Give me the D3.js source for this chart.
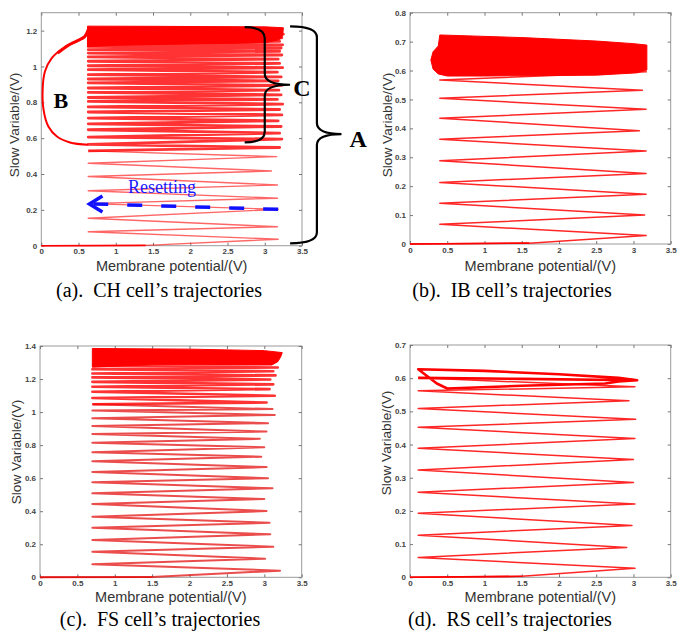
<!DOCTYPE html>
<html>
<head>
<meta charset="utf-8">
<script src="https://cdnjs.cloudflare.com/ajax/libs/d3/7.8.5/d3.min.js"></script>
<style>
  body { margin: 0; background: #fff; }
  svg { display: block; }
  .tick text { font-family: "Liberation Sans", Arial, sans-serif; font-size: 8px; font-weight: bold; fill: #444; }
  .tick line { stroke: #777; }
  .lbl { font-family: "Liberation Sans", Arial, sans-serif; fill: #333; }
  .cap { font-family: "Liberation Serif", "Times New Roman", serif; font-size: 20px; fill: #000; white-space: pre; }
  .note { font-family: "Liberation Serif", "Times New Roman", serif; font-weight: bold; fill: #000; }
</style>
</head>
<body>
<div id="fig"></div>
<script>
// x axis is the same for all four panels
const xTicks = [0, 0.5, 1, 1.5, 2, 2.5, 3, 3.5]

// (a) CH cell
const aStart = [[0, 0], [1.4, 0.002]]
const aResetV = 0.63
const aPeakX = [3.18, 3.17, 3.18, 3.17, 3.17, 3.09, 3.16, 3.20, 3.23, 3.20, 3.22, 3.18, 3.23, 3.20, 3.24, 3.17, 3.22, 3.19, 3.23, 3.18, 3.22, 3.17, 3.24, 3.20, 3.18, 3.23, 3.20, 3.22, 3.24, 3.20, 3.23, 3.25, 3.22]
const aPeakY = [0.036, 0.106, 0.203, 0.265, 0.339, 0.417, 0.497, 0.548, 0.595, 0.628, 0.665, 0.697, 0.730, 0.760, 0.790, 0.816, 0.842, 0.868, 0.894, 0.920, 0.942, 0.968, 0.993, 1.017, 1.041, 1.064, 1.085, 1.103, 1.121, 1.140, 1.160, 1.180, 1.200]
const aResetY = [0.078, 0.153, 0.235, 0.307, 0.386, 0.460, 0.529, 0.565, 0.606, 0.647, 0.680, 0.712, 0.746, 0.774, 0.805, 0.827, 0.855, 0.880, 0.908, 0.930, 0.954, 0.982, 1.004, 1.029, 1.053, 1.075, 1.094, 1.112, 1.130, 1.150, 1.170, 1.190, 1.210]
const aSolid = [[0.62, 1.225], [1.5, 1.224], [3.0, 1.221], [3.25, 1.216], [3.24, 1.17], [3.2, 1.15], [3.0, 1.132], [2.0, 1.126], [1.0, 1.118], [0.62, 1.11]]
const aQuiet = [[0.645, 1.224], [0.61, 1.178], [0.52, 1.15], [0.30, 1.103], [0.14, 1.047], [0.05, 0.973], [0.02, 0.889], [0.03, 0.759], [0.095, 0.665], [0.21, 0.609], [0.385, 0.576], [0.63, 0.563]]
const aQuietTop = [[0.22, 1.075], [0.35, 1.115], [0.48, 1.143], [0.58, 1.165], [0.63, 1.205]]

// (b) IB cell
const bStart = [[0, 0], [1.6, 0.003]]
const bResetV = 0.4
const bPeakX = [3.17, 3.15, 3.17, 3.17, 3.17, 3.08, 3.17, 3.12, 3.18]
const bPeakY = [0.029, 0.100, 0.172, 0.244, 0.322, 0.392, 0.466, 0.532, 0.596]
const bResetY = [0.068, 0.141, 0.213, 0.288, 0.362, 0.435, 0.504, 0.567]
const bSolid = [[0.4, 0.723], [1.5, 0.714], [2.5, 0.702], [3.0, 0.693], [3.18, 0.688], [3.18, 0.602], [3.05, 0.592], [2.5, 0.584], [1.0, 0.581], [0.5, 0.581], [0.38, 0.588], [0.31, 0.605], [0.28, 0.636], [0.31, 0.665], [0.38, 0.685], [0.4, 0.723]]

// (c) FS cell
const cStart = [[0, 0], [1.5, 0.002]]
const cResetV = 0.7
const cPeakX = [3.21, 3.01, 3.12, 3.08, 3.07, 3.03, 3.00, 3.11, 3.05, 3.03, 2.96, 3.00, 2.94, 3.03, 3.05, 3.14, 3.11, 3.03, 3.14, 3.07, 3.12, 3.08, 3.15, 3.12, 3.18]
const cPeakY = [0.040, 0.113, 0.185, 0.260, 0.330, 0.401, 0.474, 0.539, 0.600, 0.667, 0.730, 0.787, 0.838, 0.882, 0.933, 0.983, 1.018, 1.058, 1.099, 1.139, 1.168, 1.197, 1.222, 1.247, 1.270]
const cResetY = [0.079, 0.155, 0.226, 0.300, 0.367, 0.444, 0.508, 0.575, 0.637, 0.702, 0.757, 0.815, 0.867, 0.916, 0.962, 1.010, 1.047, 1.085, 1.123, 1.153, 1.183, 1.210, 1.234, 1.259, 1.280]
const cSolid = [[0.7, 1.385], [2.0, 1.381], [3.0, 1.372], [3.24, 1.360], [3.22, 1.335], [3.18, 1.305], [3.1, 1.285], [2.5, 1.285], [1.5, 1.287], [0.7, 1.272]]

// (d) RS cell
const dStart = [[0, 0], [1.5, 0.003]]
const dResetV = 0.11
const dPeakX = [3.02, 2.91, 2.98, 3.02, 3.00, 3.00, 3.02, 3.03, 2.94, 3.02]
const dPeakY = [0.027, 0.090, 0.156, 0.221, 0.286, 0.355, 0.418, 0.476, 0.532, 0.574]
const dResetY = [0.060, 0.127, 0.193, 0.256, 0.323, 0.389, 0.452, 0.509, 0.562, 0.601]
const dLoop = [[0.11, 0.601], [1.5, 0.598], [3.05, 0.594], [2.8, 0.601], [2.0, 0.612], [1.0, 0.622], [0.11, 0.627], [0.18, 0.615], [0.36, 0.584], [0.5, 0.569], [1.5, 0.577], [2.62, 0.584], [2.8, 0.590], [3.05, 0.594]]

// annotations on (a)
const braceC = { tip: 2.73, spine: 3.0, cusp: 3.34, top: 1.219, mid: 0.898, bottom: 0.576 }
const braceA = { tip: 3.34, spine: 3.70, cusp: 4.03, top: 1.224, mid: 0.623, bottom: 0.013 }
const resetArrow = [[3.18, 0.203], [0.70, 0.233]]

const panels = [
  { left: 41.3, right: 302, top: 12.7, bottom: 245.7, yMax: 1.3, yTicks: [0, 0.2, 0.4, 0.6, 0.8, 1, 1.2],
    start: aStart, resetV: aResetV, peakX: aPeakX, peakY: aPeakY, resetY: aResetY, solid: aSolid,
    caption: "(a).  CH cell\u2019s trajectories", capX: 159, capY: 297, xlY: 271, ylX: 19, ylY: 125,
    op: 0.6, sw: 1.4, bandFrom: 7, bandOp: 0.8, bandSw: 2.8 },
  { left: 410, right: 670.7, top: 12.7, bottom: 244, yMax: 0.8, yTicks: [0, 0.1, 0.2, 0.3, 0.4, 0.5, 0.6, 0.7, 0.8],
    start: bStart, resetV: bResetV, peakX: bPeakX, peakY: bPeakY, resetY: bResetY, solid: bSolid,
    caption: "(b).  IB cell\u2019s trajectories", capX: 512, capY: 297, xlY: 271, ylX: 392, ylY: 125, op: 0.85, sw: 1.5 },
  { left: 40, right: 301.7, top: 346, bottom: 577.3, yMax: 1.4, yTicks: [0, 0.2, 0.4, 0.6, 0.8, 1, 1.2, 1.4],
    start: cStart, resetV: cResetV, peakX: cPeakX, peakY: cPeakY, resetY: cResetY, solid: cSolid,
    caption: "(c).  FS cell\u2019s trajectories", capX: 160, capY: 626, xlY: 602, ylX: 21, ylY: 452,
    op: 0.75, sw: 2.0, line: "#e41010", bandFrom: 17, bandOp: 0.8, bandSw: 2.6 },
  { left: 410, right: 670.7, top: 345, bottom: 577.3, yMax: 0.7, yTicks: [0, 0.1, 0.2, 0.3, 0.4, 0.5, 0.6, 0.7],
    start: dStart, resetV: dResetV, peakX: dPeakX, peakY: dPeakY, resetY: dResetY, solid: null,
    caption: "(d).  RS cell\u2019s trajectories", capX: 510, capY: 626, xlY: 602, ylX: 391, ylY: 443, op: 0.85, sw: 1.5 }
]

const fmt = d => String(+d.toFixed(2))

const svg = d3.select("#fig").append("svg")
  .attr("width", 691)
  .attr("height", 634)

function trajectory(p, from, to) {
  // spike peaks and reset points alternate
  let pts = from === 0 ? p.start.slice() : [[p.resetV, p.resetY[from - 1]]]
  for (let i = from; i < to; i++) {
    pts.push([p.peakX[i], p.peakY[i]])
    if (i < p.resetY.length) pts.push([p.resetV, p.resetY[i]])
  }
  return pts
}

function drawPanel(p) {
  const x = d3.scaleLinear().domain([0, 3.5]).range([p.left, p.right])
  const y = d3.scaleLinear().domain([0, p.yMax]).range([p.bottom, p.top])
  const g = svg.append("g")
  const line = d3.line().x(d => x(d[0])).y(d => y(d[1]))
  const red = "#ff0000"
  const lineRed = p.line || red

  g.append("rect")
    .attr("x", p.left).attr("y", p.top)
    .attr("width", p.right - p.left).attr("height", p.bottom - p.top)
    .attr("fill", "#fff").attr("stroke", "#9a9a9a").attr("stroke-width", 1)

  g.append("g").attr("transform", `translate(0,${p.bottom})`)
    .call(d3.axisBottom(x).tickValues(xTicks).tickFormat(fmt).tickSize(-3).tickPadding(3))
    .call(a => a.select(".domain").remove())
  g.append("g").attr("transform", `translate(0,${p.top})`)
    .call(d3.axisTop(x).tickValues(xTicks).tickFormat("").tickSize(-3))
    .call(a => a.select(".domain").remove())
  g.append("g").attr("transform", `translate(${p.left},0)`)
    .call(d3.axisLeft(y).tickValues(p.yTicks).tickFormat(fmt).tickSize(-3).tickPadding(4))
    .call(a => a.select(".domain").remove())
  g.append("g").attr("transform", `translate(${p.right},0)`)
    .call(d3.axisRight(y).tickValues(p.yTicks).tickFormat("").tickSize(-3))
    .call(a => a.select(".domain").remove())

  if (p.solid) {
    g.append("path").attr("d", line(p.solid) + "Z")
      .attr("fill", red).attr("stroke", red).attr("stroke-width", 1)
  }

  const n = p.peakY.length
  const split = p.bandFrom || n
  g.append("path").attr("d", line(trajectory(p, 0, split)))
    .attr("fill", "none").attr("stroke", lineRed)
    .attr("stroke-width", p.sw).attr("stroke-opacity", p.op)
    .attr("stroke-linejoin", "round")
  if (split < n) {
    g.append("path").attr("d", line(trajectory(p, split, n)))
      .attr("fill", "none").attr("stroke", red)
      .attr("stroke-width", p.bandSw).attr("stroke-opacity", p.bandOp)
      .attr("stroke-linejoin", "round")
  }

  // resting part along the x axis is darker
  g.append("path").attr("d", line(p.start))
    .attr("fill", "none").attr("stroke", lineRed).attr("stroke-width", 1.6)

  g.append("text").attr("class", "lbl")
    .attr("x", (p.left + p.right) / 2).attr("y", p.xlY)
    .attr("text-anchor", "middle").attr("font-size", 14.5)
    .text("Membrane potential/(V)")
  g.append("text").attr("class", "lbl")
    .attr("transform", `translate(${p.ylX},${p.ylY}) rotate(-90)`)
    .attr("text-anchor", "middle").attr("font-size", 13.7)
    .text("Slow Variable/(V)")
  g.append("text").attr("class", "cap")
    .attr("x", p.capX).attr("y", p.capY)
    .attr("text-anchor", "middle")
    .text(p.caption)

  return { x, y, g, line }
}

const sa = drawPanel(panels[0])
drawPanel(panels[1])
drawPanel(panels[2])
const sd = drawPanel(panels[3])

// quiescent loop B of the CH cell
const smooth = d3.line().x(d => sa.x(d[0])).y(d => sa.y(d[1])).curve(d3.curveCatmullRom)
sa.g.append("path").attr("d", smooth(aQuiet))
  .attr("fill", "none").attr("stroke", "#ff0000").attr("stroke-width", 2)
sa.g.append("path").attr("d", smooth(aQuietTop))
  .attr("fill", "none").attr("stroke", "#ff0000").attr("stroke-width", 3)

// tonic loop of the RS cell
sd.g.append("path").attr("d", sd.line(dLoop))
  .attr("fill", "none").attr("stroke", "#ff0000").attr("stroke-width", 2.6)
  .attr("stroke-linejoin", "round")

function brace(s, b) {
  const x0 = s.x(b.tip), x1 = s.x(b.spine), x2 = s.x(b.cusp)
  const yt = s.y(b.top), ym = s.y(b.mid), yb = s.y(b.bottom)
  const r = 11
  const p = d3.path()
  p.moveTo(x0, yt)
  p.quadraticCurveTo(x1, yt, x1, yt + r)
  p.lineTo(x1, ym - r)
  p.quadraticCurveTo(x1, ym, x2, ym)
  p.quadraticCurveTo(x1, ym, x1, ym + r)
  p.lineTo(x1, yb - r)
  p.quadraticCurveTo(x1, yb, x0, yb)
  return p.toString()
}

sa.g.append("path").attr("d", brace(sa, braceC))
  .attr("fill", "none").attr("stroke", "#000").attr("stroke-width", 2.2)
sa.g.append("path").attr("d", brace(sa, braceA))
  .attr("fill", "none").attr("stroke", "#000").attr("stroke-width", 2.2)

sa.g.append("text").attr("class", "note").attr("font-size", 24)
  .attr("x", sa.x(3.5)).attr("y", sa.y(0.88)).attr("dy", "0.35em")
  .attr("text-anchor", "middle").text("C")
sa.g.append("text").attr("class", "note").attr("font-size", 24)
  .attr("x", sa.x(4.255)).attr("y", sa.y(0.60)).attr("dy", "0.35em")
  .attr("text-anchor", "middle").text("A")
sa.g.append("text").attr("class", "note").attr("font-size", 22)
  .attr("x", sa.x(0.264)).attr("y", sa.y(0.814)).attr("dy", "0.35em")
  .attr("text-anchor", "middle").text("B")

// resetting arrow
sa.g.append("path").attr("d", sa.line(resetArrow))
  .attr("fill", "none").attr("stroke", "#1010ff").attr("stroke-width", 3.5)
  .attr("stroke-dasharray", "15,19")
const hx = sa.x(resetArrow[1][0]) - 4, hy = sa.y(resetArrow[1][1])
sa.g.append("path").attr("d", `M${hx + 13},${hy - 8}L${hx},${hy}L${hx + 13},${hy + 8}`)
  .attr("fill", "none").attr("stroke", "#1010ff").attr("stroke-width", 3.5)
sa.g.append("text")
  .attr("font-family", "Liberation Serif, Times New Roman, serif")
  .attr("font-size", 18).attr("fill", "#1a1aff")
  .attr("x", sa.x(1.62)).attr("y", sa.y(0.325)).attr("dy", "0.32em")
  .attr("text-anchor", "middle").text("Resetting")
</script>
</body>
</html>
